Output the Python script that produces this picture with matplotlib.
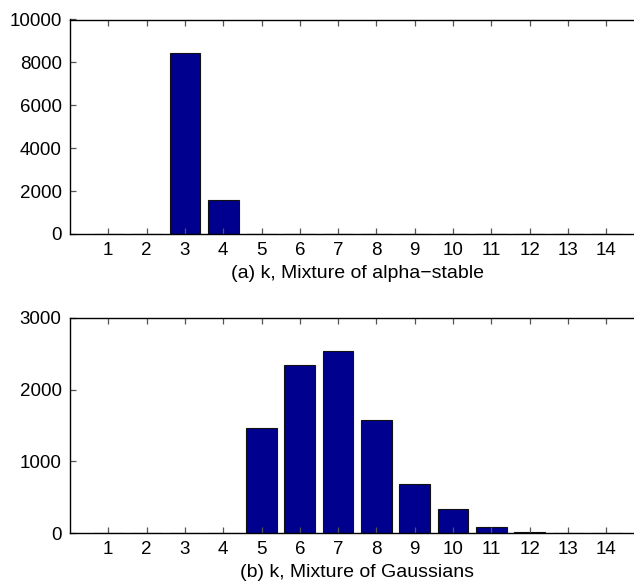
import matplotlib
matplotlib.use("Agg")
import matplotlib.pyplot as plt

plt.rcParams['font.family'] = ['Liberation Sans', 'DejaVu Sans']

k = list(range(1, 15))
alpha_counts = [0, 0, 8450, 1570, 0, 0, 0, 0, 0, 0, 0, 0, 0, 0]
gauss_counts = [0, 0, 0, 0, 1472, 2341, 2537, 1570, 687, 332, 79, 19, 0, 0]
xlabels = ["(a) k, Mixture of alpha\u2212stable", "(b) k, Mixture of Gaussians"]
ylims = [10000, 3000]
yticks = [[0, 2000, 4000, 6000, 8000, 10000], [0, 1000, 2000, 3000]]

W, H = 634, 586
fig = plt.figure(figsize=(W / 100, H / 100), dpi=100)

left_px = 70
right_px = 70 + 15 * 38.3
panels = [(19.5, 234), (318, 533)]
data = [alpha_counts, gauss_counts]

for i, ((top, bot), counts) in enumerate(zip(panels, data)):
    ax = fig.add_axes([left_px / W, 1 - bot / H, (right_px - left_px) / W, (bot - top) / H])
    ax.bar(k, counts, width=0.8, color='#00008F', edgecolor='#111111', linewidth=0.8)
    ax.set_xlim(0, 15)
    ax.set_ylim(0, ylims[i])
    ax.set_xticks(k)
    ax.set_xticklabels([str(v) for v in k])
    ax.set_yticks(yticks[i])
    ax.tick_params(direction='in', length=4.5, width=0.9, color='#555555',
                   top=True, right=True, labelsize=13.5, pad=6)
    for s in ax.spines.values():
        s.set_linewidth(1.0)
        s.set_color('black')
    ax.set_xlabel(xlabels[i], fontsize=14, labelpad=4)

fig.savefig("out.png", dpi=100)
